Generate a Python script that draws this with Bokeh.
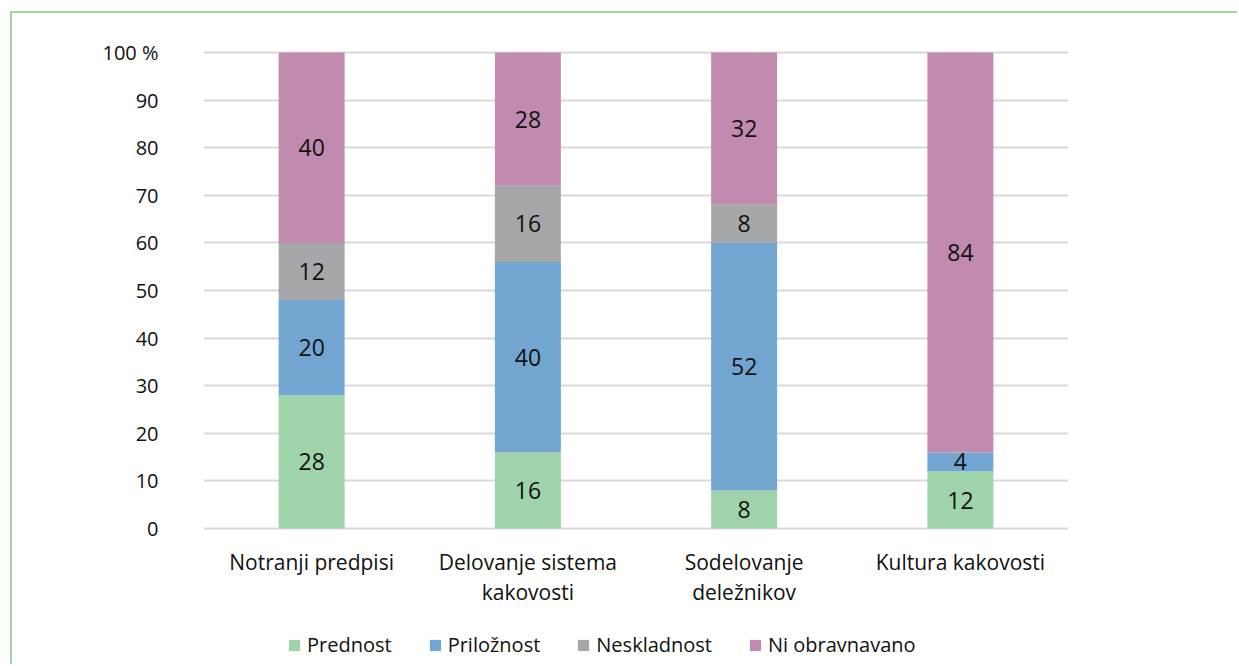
from bokeh.plotting import figure
from bokeh.layouts import column
from bokeh.models import ColumnDataSource, FactorRange, Range1d, FixedTicker, Legend
from bokeh.core.properties import value
from bokeh.embed import file_html
from bokeh.resources import INLINE

categories = ["Notranji predpisi", "Delovanje sistema\nkakovosti", "Sodelovanje\ndeležnikov", "Kultura kakovosti"]
series = ["Prednost", "Priložnost", "Neskladnost", "Ni obravnavano"]
prednost = [28, 16, 8, 12]
priloznost = [20, 40, 52, 4]
neskladnost = [12, 16, 8, 0]
ni_obravnavano = [40, 28, 32, 84]
y_ticks = [0, 10, 20, 30, 40, 50, 60, 70, 80, 90, 100]
y_tick_labels = ["0", "10", "20", "30", "40", "50", "60", "70", "80", "90", "100 %"]

colors = ["#9fd3a9", "#72a5d0", "#a5a7a9", "#c18aaf"]
FONT = "Open Sans"
TXT = "#111111"

values = [prednost, priloznost, neskladnost, ni_obravnavano]
data = {"x": categories}
for name, vals in zip(series, values):
    data[name] = vals
source = ColumnDataSource(data)

p = figure(x_range=FactorRange(*categories), y_range=Range1d(-0.4, 100.4),
           frame_width=865, frame_height=480,
           min_border_left=191, min_border_right=159, min_border_top=37, min_border_bottom=95,
           output_backend="svg", toolbar_location=None, tools="")

rs = p.vbar_stack(series, x="x", width=0.305, color=colors, line_width=0, source=source)

# data labels
lx, ly, lt = [], [], []
for i, c in enumerate(categories):
    base = 0
    for vals in values:
        v = vals[i]
        if v > 0:
            lx.append(c)
            ly.append(base + v / 2)
            lt.append(str(v))
        base += v
p.text(x=lx, y=ly, text=lt, text_align="center", text_baseline="middle",
       text_font=value(FONT), text_font_size="23px", text_color=TXT)

p.outline_line_color = None
p.background_fill_color = "white"
p.border_fill_color = "white"

p.xgrid.grid_line_color = None
p.ygrid.grid_line_color = "#d9d9d9"
p.ygrid.grid_line_width = 2
p.yaxis.ticker = FixedTicker(ticks=y_ticks)
p.yaxis.major_label_overrides = {t: l for t, l in zip(y_ticks, y_tick_labels)}

for ax in (p.xaxis, p.yaxis):
    ax.axis_line_color = None
    ax.major_tick_line_color = None
    ax.minor_tick_line_color = None
    ax.major_tick_out = 0
    ax.major_tick_in = 0
    ax.major_label_text_font = FONT
    ax.major_label_text_font_size = "20px"
    ax.major_label_text_color = TXT

p.xaxis.major_label_text_font_size = "21px"
p.yaxis.major_label_standoff = 45
p.xaxis.major_label_standoff = 17
p.xaxis.major_label_text_line_height = 1.1

# legend strip below the chart (its bars lie outside its visible y range)
p2 = figure(x_range=FactorRange(*categories), y_range=Range1d(1000, 1001),
            frame_width=865, frame_height=33,
            min_border_left=191, min_border_right=159, min_border_top=0, min_border_bottom=0,
            output_backend="svg", toolbar_location=None, tools="")
p2.axis.visible = False
p2.grid.grid_line_color = None
p2.outline_line_color = None
p2.border_fill_color = "white"
leg_renderers = p2.vbar_stack(series, x="x", width=0.305, color=colors, line_width=0, source=source)

legend = Legend(items=[(s, [r]) for s, r in zip(series, leg_renderers)],
                orientation="horizontal", location=(84, 0),
                glyph_width=14, glyph_height=14, label_height=20, label_standoff=6,
                spacing=36, padding=0, margin=0,
                label_text_font=FONT, label_text_font_size="20px", label_text_color=TXT,
                border_line_color=None, background_fill_alpha=0)
p2.add_layout(legend, "center")

layout = column(p, p2, spacing=0)
layout.margin = (11, 0, 0, 10)
layout.styles = {"border-top": "2px solid #a6d49e", "border-left": "2px solid #a6d49e",
                 "padding-bottom": "6px", "padding-right": "10px"}

open("out.html", "w").write(file_html(layout, INLINE))
